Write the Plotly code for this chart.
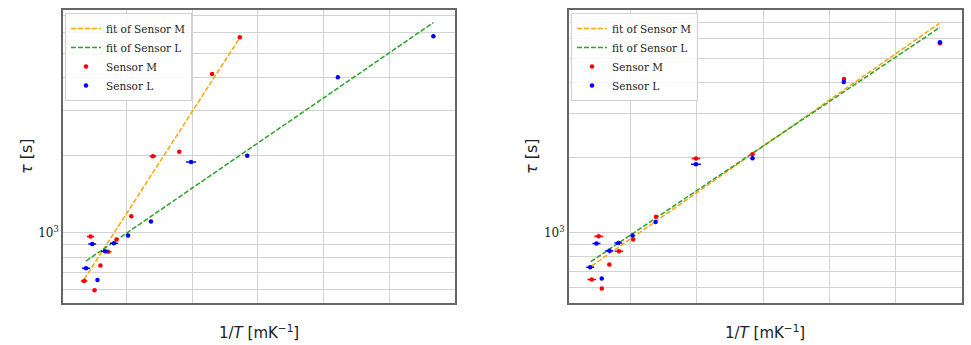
import plotly.graph_objects as go

# ---------------- data ----------------
# Sensor M: left panel (raw 1/T) and right panel (corrected 1/T)
inv_T_M_left = [0.0715, 0.091, 0.103, 0.121, 0.144, 0.170, 0.215, 0.281, 0.361, 0.461, 0.5455]
xerr_M_left = [0.010, 0.011, 0, 0, 0.011, 0, 0, 0.010, 0, 0, 0]
inv_T_M_right = [0.0815, 0.1026, 0.112, 0.135, 0.164, 0.207, 0.276, 0.397, 0.568, 0.845, 1.135]
xerr_M_right = [0.013, 0.013, 0, 0, 0.013, 0, 0, 0.013, 0, 0, 0]
tau_M = [648, 967, 597, 746, 843, 940, 1158, 1985, 2067, 4140, 5760]

# Sensor L (same in both panels)
inv_T_L = [0.077, 0.096, 0.112, 0.135, 0.162, 0.205, 0.275, 0.397, 0.568, 0.844, 1.135]
xerr_L = [0.012, 0.012, 0, 0.012, 0.012, 0, 0, 0.015, 0, 0, 0]
tau_L = [727, 904, 655, 846, 910, 975, 1105, 1883, 1992, 4030, 5815]

# fit lines (end points)
fit_M_left_x = [0.0715, 0.5455]
fit_M_left_tau = [659, 5740]
fit_L_left_x = [0.077, 1.135]
fit_L_left_tau = [776, 6570]
fit_M_right_x = [0.0815, 1.133]
fit_M_right_tau = [735, 6930]
fit_L_right_x = [0.079, 1.135]
fit_L_right_tau = [765, 6680]

x_ticks = [0.2, 0.4, 0.6, 0.8, 1.0, 1.2]
x_tick_text = ["0.2", "0.4", "0.6", "0.8", "1.0", "1.2"]
y_grid = [600, 700, 800, 900, 1000, 2000, 3000, 4000, 5000, 6000, 7000]
y_grid_text = ["", "", "", "", "10<sup>3</sup>", "", "", "", "", "", ""]
x_title = "1/<i>T</i> [mK<sup>\u22121</sup>]"
y_title = "<i>\u03c4</i> [s]"

# ---------------- styling ----------------
W, H = 971, 345
ORANGE = "#ffa500"
GREEN = "#2ca02c"
RED = "#ff0000"
BLUE = "#0000ff"
SERIF = "DejaVu Serif"
SANS = "DejaVu Sans"
GRID = "#d2d2d2"
FRAME = "#666666"
TXT = "#222222"

Y_RANGE_LEFT = [2.7284, 3.8665]
Y_RANGE_RIGHT = [2.7197, 3.8944]
PLOT_TOP, PLOT_BOTTOM = 10, 302.5
LABEL_GAP = 9  # px between frame bottom and tick-label centre

fig = go.Figure()


def add_panel(suffix, legend, fm_x, fm_y, fl_x, fl_y, m_x, m_err, yr):
    xa = "x" + suffix
    ya = "y" + suffix
    fig.add_trace(go.Scatter(x=fm_x, y=fm_y, mode="lines", name="fit of Sensor M",
                             line=dict(color=ORANGE, width=1.5, dash="5px,2px"),
                             xaxis=xa, yaxis=ya, legend=legend))
    fig.add_trace(go.Scatter(x=fl_x, y=fl_y, mode="lines", name="fit of Sensor L",
                             line=dict(color=GREEN, width=1.5, dash="5px,2px"),
                             xaxis=xa, yaxis=ya, legend=legend))
    fig.add_trace(go.Scatter(x=m_x, y=tau_M, mode="markers", name="Sensor M",
                             marker=dict(color=RED, size=4.5),
                             error_x=dict(type="data", array=m_err, width=0,
                                          thickness=1.5, color=RED),
                             xaxis=xa, yaxis=ya, legend=legend))
    fig.add_trace(go.Scatter(x=inv_T_L, y=tau_L, mode="markers", name="Sensor L",
                             marker=dict(color=BLUE, size=4.5),
                             error_x=dict(type="data", array=xerr_L, width=0,
                                          thickness=1.5, color=BLUE),
                             xaxis=xa, yaxis=ya, legend=legend))
    # x tick labels drawn as text just below the frame, on the axis's own scale
    decades_per_px = (yr[1] - yr[0]) / (PLOT_BOTTOM - PLOT_TOP)
    label_tau = 10 ** (yr[0] - LABEL_GAP * decades_per_px)
    fig.add_trace(go.Scatter(x=x_ticks, y=[label_tau] * len(x_ticks), mode="text",
                             text=x_tick_text, textposition="middle center",
                             textfont=dict(family=SERIF, size=12, color=TXT),
                             cliponaxis=False, showlegend=False, hoverinfo="skip",
                             xaxis=xa, yaxis=ya))


add_panel("", "legend", fit_M_left_x, fit_M_left_tau, fit_L_left_x, fit_L_left_tau,
          inv_T_M_left, xerr_M_left, Y_RANGE_LEFT)
add_panel("2", "legend2", fit_M_right_x, fit_M_right_tau, fit_L_right_x, fit_L_right_tau,
          inv_T_M_right, xerr_M_right, Y_RANGE_RIGHT)

y_dom = [1 - PLOT_BOTTOM / H, 1 - PLOT_TOP / H]
xd1 = [63 / W, 455 / W]
xd2 = [568.7 / W, 961.7 / W]

common_x = dict(
    tickmode="array", tickvals=x_ticks, showticklabels=False,
    showgrid=True, gridcolor=GRID, gridwidth=1.2,
    showline=True, linecolor=FRAME, linewidth=1.5, mirror=True,
    ticks="", zeroline=False,
    automargin=False,
)
common_y = dict(
    type="log", tickmode="array", tickvals=y_grid, ticktext=y_grid_text,
    showgrid=True, gridcolor=GRID, gridwidth=1.2,
    showline=True, linecolor=FRAME, linewidth=1.5, mirror=True,
    ticks="", zeroline=False,
    tickfont=dict(family=SERIF, size=12, color=TXT),
    title=dict(text=y_title, font=dict(family=SANS, size=16, color=TXT), standoff=2),
    automargin=False,
)

# x-axis titles as paper annotations centred under each panel
annotations = []
for dom in (xd1, xd2):
    annotations.append(dict(
        x=(dom[0] + dom[1]) / 2, xref="paper", y=1 - 332 / H, yref="paper",
        text=x_title, showarrow=False, xanchor="center", yanchor="middle",
        font=dict(family=SANS, size=15, color=TXT),
    ))

legend_common = dict(
    xanchor="left", yanchor="top",
    bgcolor="rgba(255,255,255,0.85)", bordercolor="#d0d0d0", borderwidth=1,
    font=dict(family=SERIF, size=10.5, color=TXT),
    itemwidth=30, tracegroupgap=0,
)

fig.update_layout(
    width=W, height=H,
    margin=dict(l=0, r=0, t=0, b=0),
    paper_bgcolor="white", plot_bgcolor="white",
    xaxis=dict(domain=xd1, range=[0.007, 1.2008], anchor="y", **common_x),
    yaxis=dict(domain=y_dom, range=Y_RANGE_LEFT, anchor="x", **common_y),
    xaxis2=dict(domain=xd2, range=[0.012, 1.2008], anchor="y2", **common_x),
    yaxis2=dict(domain=y_dom, range=Y_RANGE_RIGHT, anchor="x2", **common_y),
    legend=dict(x=65 / W, y=1 - 13 / H, **legend_common),
    legend2=dict(x=571 / W, y=1 - 13 / H, **legend_common),
    annotations=annotations,
    showlegend=True,
)

fig.write_html("out.html")
